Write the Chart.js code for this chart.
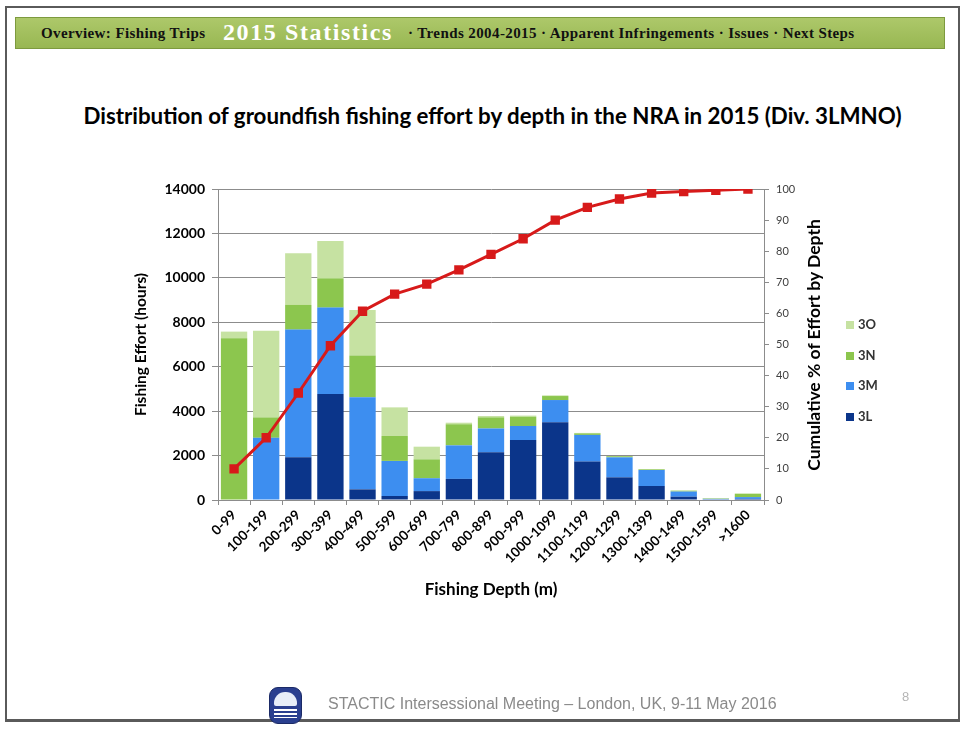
<!DOCTYPE html>
<html>
<head>
<meta charset="utf-8">
<script src="https://cdn.jsdelivr.net/npm/chart.js@4/dist/chart.umd.min.js"></script>
<style>
  body { margin: 0; background: #fff; }
  #slide { position: relative; width: 967px; height: 729px; overflow: hidden; background: #fff; }
  #frame { position: absolute; left: 5px; top: 6px; width: 955px; height: 716px; border: 2px solid #5a5a5a; box-sizing: border-box; border-bottom-width: 3px; }
  #banner { position: absolute; left: 15px; top: 17px; width: 930px; height: 32px; box-sizing: border-box;
    background: linear-gradient(#adc86a, #98b752); border: 1px solid #7d9a3e;
    font-family: "Liberation Serif", serif; font-weight: bold; white-space: nowrap; }
  #banner span { position: absolute; top: 7px; font-size: 15px; letter-spacing: 0.4px; color: #111; }
  #banner .big { top: 1px; font-size: 24px; letter-spacing: 1.6px; color: #fff; }
  #title { position: absolute; left: 9px; width: 967px; top: 102px; text-align: center;
    font-family: Lato, "Noto Sans", sans-serif; font-weight: bold; font-size: 22.3px; color: #000; }
  #y2title { position: absolute; left: 814px; top: 345px; width: 300px; margin-left: -150px; margin-top: -10px; height: 20px;
    line-height: 20px; text-align: center; transform: rotate(-90deg);
    font-family: Lato, sans-serif; font-weight: bold; font-size: 17.5px; color: #000; }
  #legend { position: absolute; left: 846px; top: 315px; font-family: Lato, sans-serif; font-weight: bold; font-size: 13px; color: #333; }
  #legend div { height: 30.5px; line-height: 18px; }
  #legend i { display: inline-block; width: 8px; height: 8px; margin-right: 4px; vertical-align: 0px; }
  #logo { position: absolute; left: 269px; top: 687px; width: 31px; height: 35px; border-radius: 9px; background: #2a3f8f; border: 1px solid #1b2a66; }
  #logo b { position: absolute; left: 4px; top: 4px; width: 23px; height: 14px; border-radius: 11px 11px 2px 2px; background: #e8eef8; }
  #logo s { position: absolute; left: 4px; top: 21px; width: 23px; height: 9px; background: repeating-linear-gradient(#fff 0 2px, #2a3f8f 2px 4px); }
  #foot { position: absolute; left: 328px; top: 695px; font-family: "Liberation Sans", Arial, sans-serif; font-size: 16px; color: #8a8a8a; }
  #page { position: absolute; left: 902px; top: 689px; font-family: "Liberation Sans", sans-serif; font-size: 13px; color: #b5b5b5; }
  canvas { position: absolute; left: 0; top: 0; }
</style>
</head>
<body>
<div id="slide">
  <div id="frame"></div>
  <div id="banner">
    <span style="left:25px">Overview: Fishing Trips</span>
    <span class="big" style="left:207px">2015 Statistics</span>
    <span style="left:392px">&middot; Trends 2004-2015 &middot; Apparent Infringements &middot; Issues &middot; Next Steps</span>
  </div>
  <div id="title">Distribution of groundfish fishing effort by depth in the NRA in 2015 (Div. 3LMNO)</div>
  <canvas id="effortChart" width="967" height="729"></canvas>
  <div id="y2title">Cumulative % of Effort by Depth</div>
  <div id="legend">
    <div><i style="background:#c6e2a2"></i>3O</div>
    <div><i style="background:#8cc64e"></i>3N</div>
    <div><i style="background:#3d8ef0"></i>3M</div>
    <div><i style="background:#0b358a"></i>3L</div>
  </div>
  <div id="logo"><b></b><s></s></div>
  <div id="foot">STACTIC Intersessional Meeting &ndash; London, UK, 9-11 May 2016</div>
  <div id="page">8</div>
</div>
<script>
// Depth bands (m)
const depths = ['0-99', '100-199', '200-299', '300-399', '400-499', '500-599', '600-699', '700-799',
  '800-899', '900-999', '1000-1099', '1100-1199', '1200-1299', '1300-1399', '1400-1499', '1500-1599', '>1600'];

// Fishing effort (hours) per division
const div3L = [0, 0, 1920, 4770, 480, 180, 400, 950, 2150, 2700, 3500, 1730, 1020, 630, 150, 30, 50];
const div3M = [0, 2800, 5750, 3890, 4140, 1580, 580, 1510, 1070, 630, 1000, 1200, 900, 720, 230, 20, 80];
const div3N = [7280, 920, 1110, 1320, 1880, 1120, 850, 950, 500, 420, 180, 70, 50, 30, 40, 20, 140];
const div3O = [300, 3900, 2330, 1680, 2050, 1290, 570, 70, 60, 50, 30, 20, 10, 10, 10, 10, 30];

// Cumulative % of effort by depth
const cumulative = [10, 20, 34.4, 49.6, 60.7, 66.2, 69.4, 74, 79, 84, 90, 94.1, 96.8, 98.7, 99.2, 99.6, 100];

const font = 'Lato, "Noto Sans", sans-serif';

new Chart(document.getElementById('effortChart').getContext('2d'), {
  type: 'bar',
  data: {
    labels: depths,
    datasets: [
      { type: 'line', label: 'Cumulative %', data: cumulative, yAxisID: 'y2', order: 0,
        borderColor: '#d71a1a', backgroundColor: '#d71a1a', borderWidth: 3,
        pointStyle: 'rect', pointRadius: 4.5, pointHoverRadius: 4.5 },
      { label: '3L', data: div3L, backgroundColor: '#0b358a', order: 1 },
      { label: '3M', data: div3M, backgroundColor: '#3d8ef0', order: 1 },
      { label: '3N', data: div3N, backgroundColor: '#8cc64e', order: 1 },
      { label: '3O', data: div3O, backgroundColor: '#c6e2a2', order: 1 }
    ]
  },
  options: {
    responsive: false,
    animation: false,
    layout: { padding: { left: 128, right: 140, top: 189, bottom: 125 } },
    datasets: { bar: { categoryPercentage: 1, barPercentage: 0.82 } },
    plugins: { legend: { display: false }, tooltip: { enabled: false } },
    scales: {
      x: {
        stacked: true,
        afterFit: s => { s.height = 104; },
        grid: { offset: true, drawOnChartArea: false, tickLength: 5, color: '#8c8c8c' },
        border: { color: '#8c8c8c' },
        ticks: { minRotation: 45, maxRotation: 45, padding: 2, color: '#000',
          font: { family: font, weight: 'bold', size: 13.5 } },
        title: { display: true, text: 'Fishing Depth (m)', color: '#000', padding: { top: 4, bottom: 4 },
          font: { family: font, weight: 'bold', size: 17 } }
      },
      y: {
        stacked: true, min: 0, max: 14000,
        afterFit: s => { s.width = 90; },
        grid: { color: '#8c8c8c', tickLength: 6 },
        border: { color: '#8c8c8c' },
        ticks: { stepSize: 2000, padding: 7, color: '#000', callback: v => String(v),
          font: { family: font, weight: 'bold', size: 14 } },
        title: { display: true, text: 'Fishing Effort (hours)', color: '#000',
          font: { family: font, weight: 'bold', size: 15.5 } }
      },
      y2: {
        position: 'right', min: 0, max: 100,
        afterFit: s => { s.width = 63; },
        grid: { drawOnChartArea: false, tickLength: 5, color: '#8c8c8c' },
        border: { color: '#8c8c8c' },
        ticks: { stepSize: 10, padding: 7, color: '#404040', font: { family: font, size: 11 } }
      }
    }
  }
});
</script>
</body>
</html>
